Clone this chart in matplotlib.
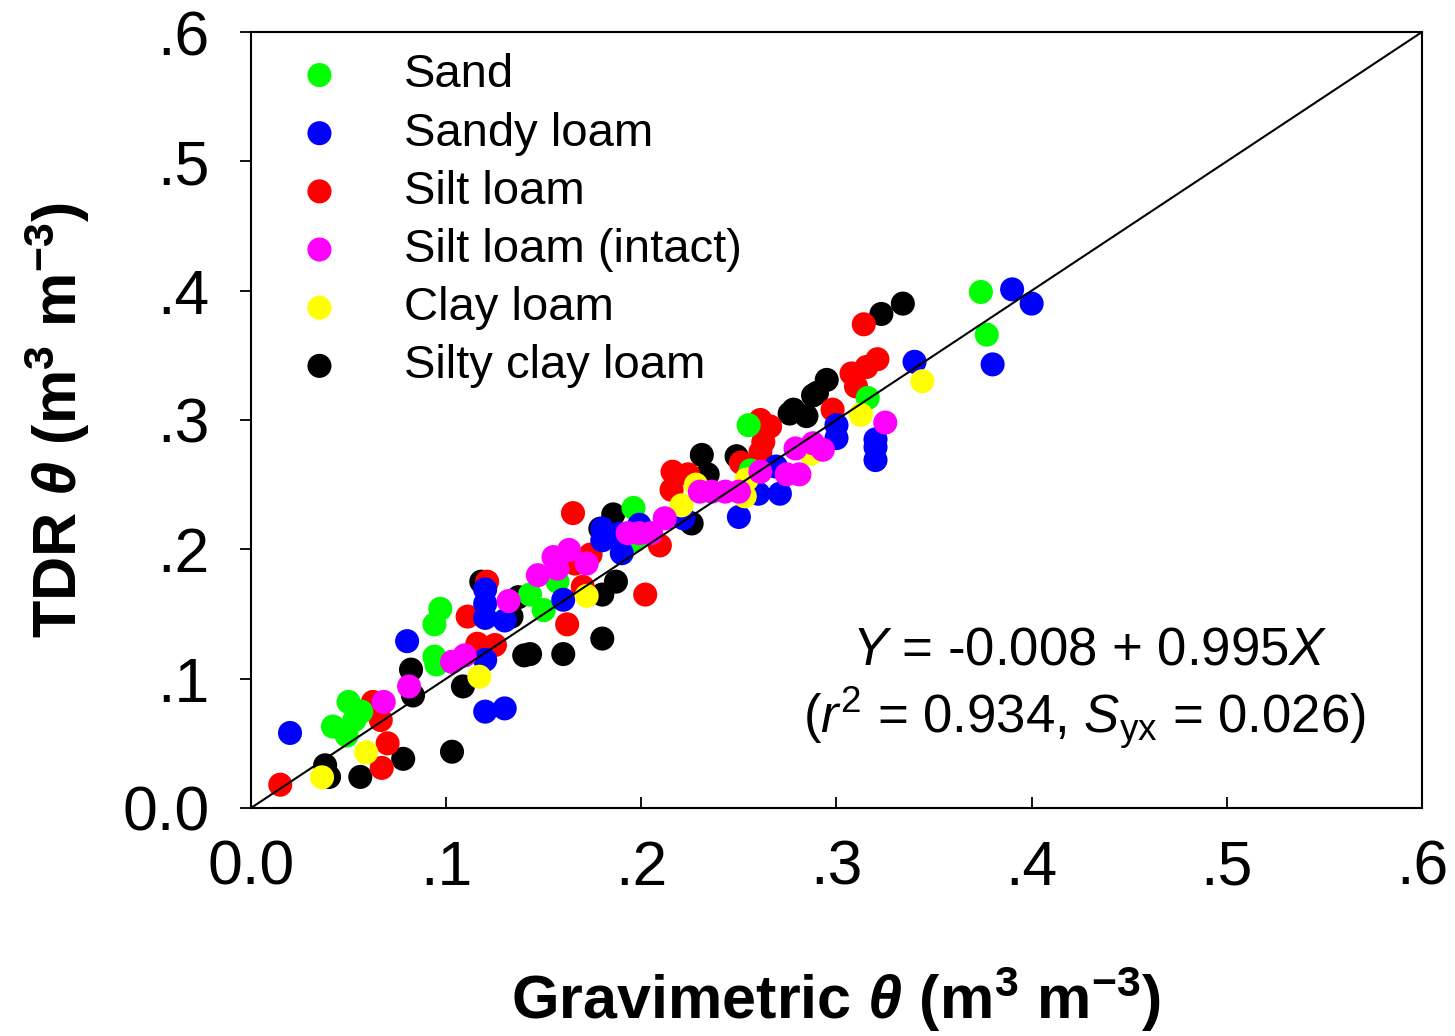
import matplotlib
matplotlib.use('Agg')
from matplotlib import pyplot as plt
import numpy as np

plt.rcParams['font.family'] = ['Liberation Sans', 'DejaVu Sans']
plt.rcParams['mathtext.fontset'] = 'custom'
plt.rcParams['mathtext.rm'] = 'Liberation Sans'
plt.rcParams['mathtext.it'] = 'Liberation Sans:italic'
plt.rcParams['mathtext.bf'] = 'Liberation Sans:bold'
plt.rcParams['mathtext.bfit'] = 'Liberation Sans:bold:italic'

# gravimetric vs TDR water content, per soil
sand_x = [0.042, 0.049, 0.050, 0.0565, 0.053, 0.097, 0.094, 0.094, 0.095, 0.143, 0.150,
          0.157, 0.196, 0.197, 0.255, 0.256, 0.316, 0.374, 0.377]
sand_y = [0.063, 0.056, 0.082, 0.0745, 0.068, 0.154, 0.142, 0.117, 0.111, 0.165, 0.153,
          0.175, 0.232, 0.207, 0.296, 0.261, 0.317, 0.399, 0.366]

sandy_x = [0.020, 0.080, 0.120, 0.120, 0.130, 0.120, 0.120, 0.120, 0.130, 0.160, 0.180,
           0.180, 0.189, 0.190, 0.199, 0.2215, 0.250, 0.260, 0.271, 0.269, 0.300, 0.300,
           0.320, 0.320, 0.320, 0.340, 0.380, 0.390, 0.400]
sandy_y = [0.058, 0.129, 0.1145, 0.0745, 0.077, 0.169, 0.158, 0.147, 0.145, 0.161, 0.216,
           0.207, 0.212, 0.197, 0.219, 0.224, 0.225, 0.243, 0.243, 0.264, 0.296, 0.286,
           0.285, 0.279, 0.269, 0.345, 0.343, 0.401, 0.390]

silt_x = [0.015, 0.070, 0.067, 0.0625, 0.0665, 0.116, 0.125, 0.111, 0.121, 0.162, 0.174,
          0.166, 0.165, 0.170, 0.202, 0.2095, 0.216, 0.2155, 0.224, 0.251, 0.261, 0.266,
          0.2625, 0.261, 0.298, 0.314, 0.321, 0.3154, 0.3077, 0.310]
silt_y = [0.018, 0.050, 0.031, 0.082, 0.068, 0.127, 0.126, 0.148, 0.175, 0.142, 0.196,
          0.189, 0.228, 0.171, 0.165, 0.203, 0.260, 0.246, 0.258, 0.267, 0.300, 0.295,
          0.283, 0.275, 0.308, 0.374, 0.347, 0.341, 0.336, 0.326]

intact_x = [0.068, 0.081, 0.103, 0.1095, 0.132, 0.147, 0.155, 0.157, 0.163, 0.172, 0.193,
            0.199, 0.205, 0.212, 0.230, 0.236, 0.243, 0.250, 0.261, 0.2745, 0.281, 0.279,
            0.288, 0.293, 0.325]
intact_y = [0.082, 0.094, 0.113, 0.118, 0.160, 0.180, 0.194, 0.185, 0.1995, 0.189, 0.2125,
            0.2125, 0.2125, 0.224, 0.2446, 0.2446, 0.2446, 0.2446, 0.260, 0.258, 0.258, 0.278,
            0.282, 0.277, 0.298]

clay_x = [0.0364, 0.059, 0.117, 0.172, 0.2206, 0.228, 0.253, 0.254, 0.287, 0.3125, 0.344]
clay_y = [0.0237, 0.043, 0.1015, 0.164, 0.234, 0.250, 0.241, 0.254, 0.274, 0.304, 0.330]

silty_x = [0.040, 0.038, 0.056, 0.078, 0.103, 0.082, 0.083, 0.1086, 0.118, 0.137, 0.140,
           0.1335, 0.143, 0.160, 0.180, 0.180, 0.187, 0.1856, 0.179, 0.2258, 0.231, 0.234,
           0.2488, 0.276, 0.2846, 0.288, 0.295, 0.290, 0.278, 0.323, 0.334]
silty_y = [0.024, 0.033, 0.024, 0.038, 0.0435, 0.107, 0.087, 0.094, 0.175, 0.163, 0.118,
           0.148, 0.119, 0.119, 0.131, 0.165, 0.175, 0.227, 0.216, 0.220, 0.273, 0.258,
           0.272, 0.305, 0.303, 0.319, 0.331, 0.321, 0.308, 0.382, 0.390]

ticks = [0.0, 0.1, 0.2, 0.3, 0.4, 0.5, 0.6]
tick_labels = ['0.0', '.1', '.2', '.3', '.4', '.5', '.6']

fig = plt.figure(figsize=(14.55, 10.36), dpi=100)
ax = fig.add_axes([0.1725, 0.2201, 0.8048, 0.749])

series = [
    ('Sand', sand_x, sand_y, '#00ff00', 4),
    ('Sandy loam', sandy_x, sandy_y, '#0000ff', 5),
    ('Silt loam', silt_x, silt_y, '#ff0000', 3),
    ('Silt loam (intact)', intact_x, intact_y, '#ff00ff', 7),
    ('Clay loam', clay_x, clay_y, '#ffff00', 6),
    ('Silty clay loam', silty_x, silty_y, '#000000', 2),
]
for name, xs, ys, col, z in series:
    ax.scatter(xs, ys, s=300, c=col, edgecolors='none', label=name, zorder=z)

ax.plot([0, 0.6], [0, 0.6], color='black', lw=1.5, zorder=8)

ax.set_xlim(0, 0.6)
ax.set_ylim(0, 0.6)
ax.set_xticks(ticks)
ax.set_xticklabels(tick_labels)
ax.set_yticks(ticks)
ax.set_yticklabels(tick_labels)
ax.tick_params(axis='x', direction='in', length=8, width=1.3, labelsize=45, pad=22)
ax.tick_params(axis='y', direction='out', length=8, width=1.3, labelsize=45, pad=22)
for sp in ax.spines.values():
    sp.set_linewidth(1.5)

ax.set_xlabel(r'Gravimetric $\mathbfit{\theta}$ (m$^{\mathbf{3}}$ m$^{\mathbf{-3}}$)',
              fontsize=44, fontweight='bold', labelpad=48)
ax.set_ylabel(r'TDR $\mathbfit{\theta}$ (m$^{\mathbf{3}}$ m$^{\mathbf{-3}}$)',
              fontsize=44, fontweight='bold', labelpad=22)

ax.text(0.43, 0.122, r'$\mathit{Y}$ = -0.008 + 0.995$\mathit{X}$', fontsize=38,
        ha='center', va='center')
ax.text(0.427, 0.07, r'($\mathit{r}^2$ = 0.934, $\mathit{S}_{\mathrm{yx}}$ = 0.026)', fontsize=38,
        ha='center', va='center')

ax.legend(loc='upper left', bbox_to_anchor=(0.0, 1.015), frameon=False, fontsize=34,
          scatterpoints=1, handletextpad=1.03, labelspacing=0.30, borderaxespad=0.3,
          handlelength=1.5)

fig.savefig('out.png', dpi=100)
